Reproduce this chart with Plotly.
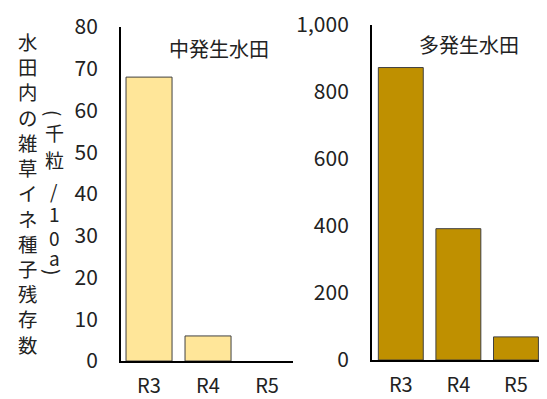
import plotly.graph_objects as go
from plotly.subplots import make_subplots

categories = ["R3", "R4", "R5"]
mid_values = [68, 6, 0]
high_values = [873, 392, 69]
mid_title = "中発生水田"
high_title = "多発生水田"
ylabel_main = "水田内の雑草イネ種子残存数"
ylabel_unit = ["(", "千", "粒", "/", "1", "0", "a", ")"]

W, H = 547, 399
FONT = "Noto Sans CJK JP"

def px(x):
    return x / W

def py(y):
    return 1 - y / H

fig = make_subplots(rows=1, cols=2)
fig.add_trace(go.Bar(x=categories, y=mid_values,
                     marker=dict(color="#FFE699", line=dict(color="#404040", width=[1 if v else 0 for v in mid_values])),
                     width=0.78), row=1, col=1)
fig.add_trace(go.Bar(x=categories, y=high_values,
                     marker=dict(color="#BF9000", line=dict(color="#404040", width=[1 if v else 0 for v in high_values])),
                     width=0.78), row=1, col=2)

axis_common = dict(showgrid=False, zeroline=False, showline=True, linecolor="black", linewidth=2, automargin=False,
                   ticks="")
yfont = dict(family=FONT, size=21, color="#222")
xfont = dict(family=FONT, size=20, color="#222")
fig.update_layout(
    xaxis=dict(domain=[px(121), px(293)], range=[-0.475, 2.44], ticklabelstandoff=6, tickfont=xfont, **axis_common),
    xaxis2=dict(domain=[px(372), px(539)], range=[-0.5, 2.4], ticklabelstandoff=6, tickfont=xfont, **axis_common),
    yaxis=dict(domain=[py(361), py(27)], range=[0, 80], dtick=10, ticklabelstandoff=17, tickfont=yfont, **axis_common),
    yaxis2=dict(domain=[py(360), py(25)], range=[0, 1000], dtick=200, tickformat=",d", ticklabelstandoff=17,
                anchor="x2", tickfont=yfont, **axis_common),
    width=W, height=H, margin=dict(l=0, r=0, t=0, b=0, autoexpand=False),
    plot_bgcolor="white", paper_bgcolor="white", showlegend=False,
    font=dict(family=FONT, color="#222"),
)

anns = [
    dict(text=mid_title, x=px(219), y=py(48), font=dict(size=20)),
    dict(text=high_title, x=px(469), y=py(44), font=dict(size=20)),
    dict(text="<br>".join(list(ylabel_main)), x=px(27), y=py(193), font=dict(size=19.4)),
]
unit_y = [113, 133, 159, 190, 213, 237, 257, 272]
for ch, yy in zip(ylabel_unit, unit_y):
    a = dict(text=ch, x=px(54), y=py(yy), font=dict(size=19))
    if ch in "()":
        a["textangle"] = 90
    anns.append(a)
for a in anns:
    a.update(xref="paper", yref="paper", showarrow=False, xanchor="center", yanchor="middle")
    fig.add_annotation(**a)

fig.write_html("out.html")
